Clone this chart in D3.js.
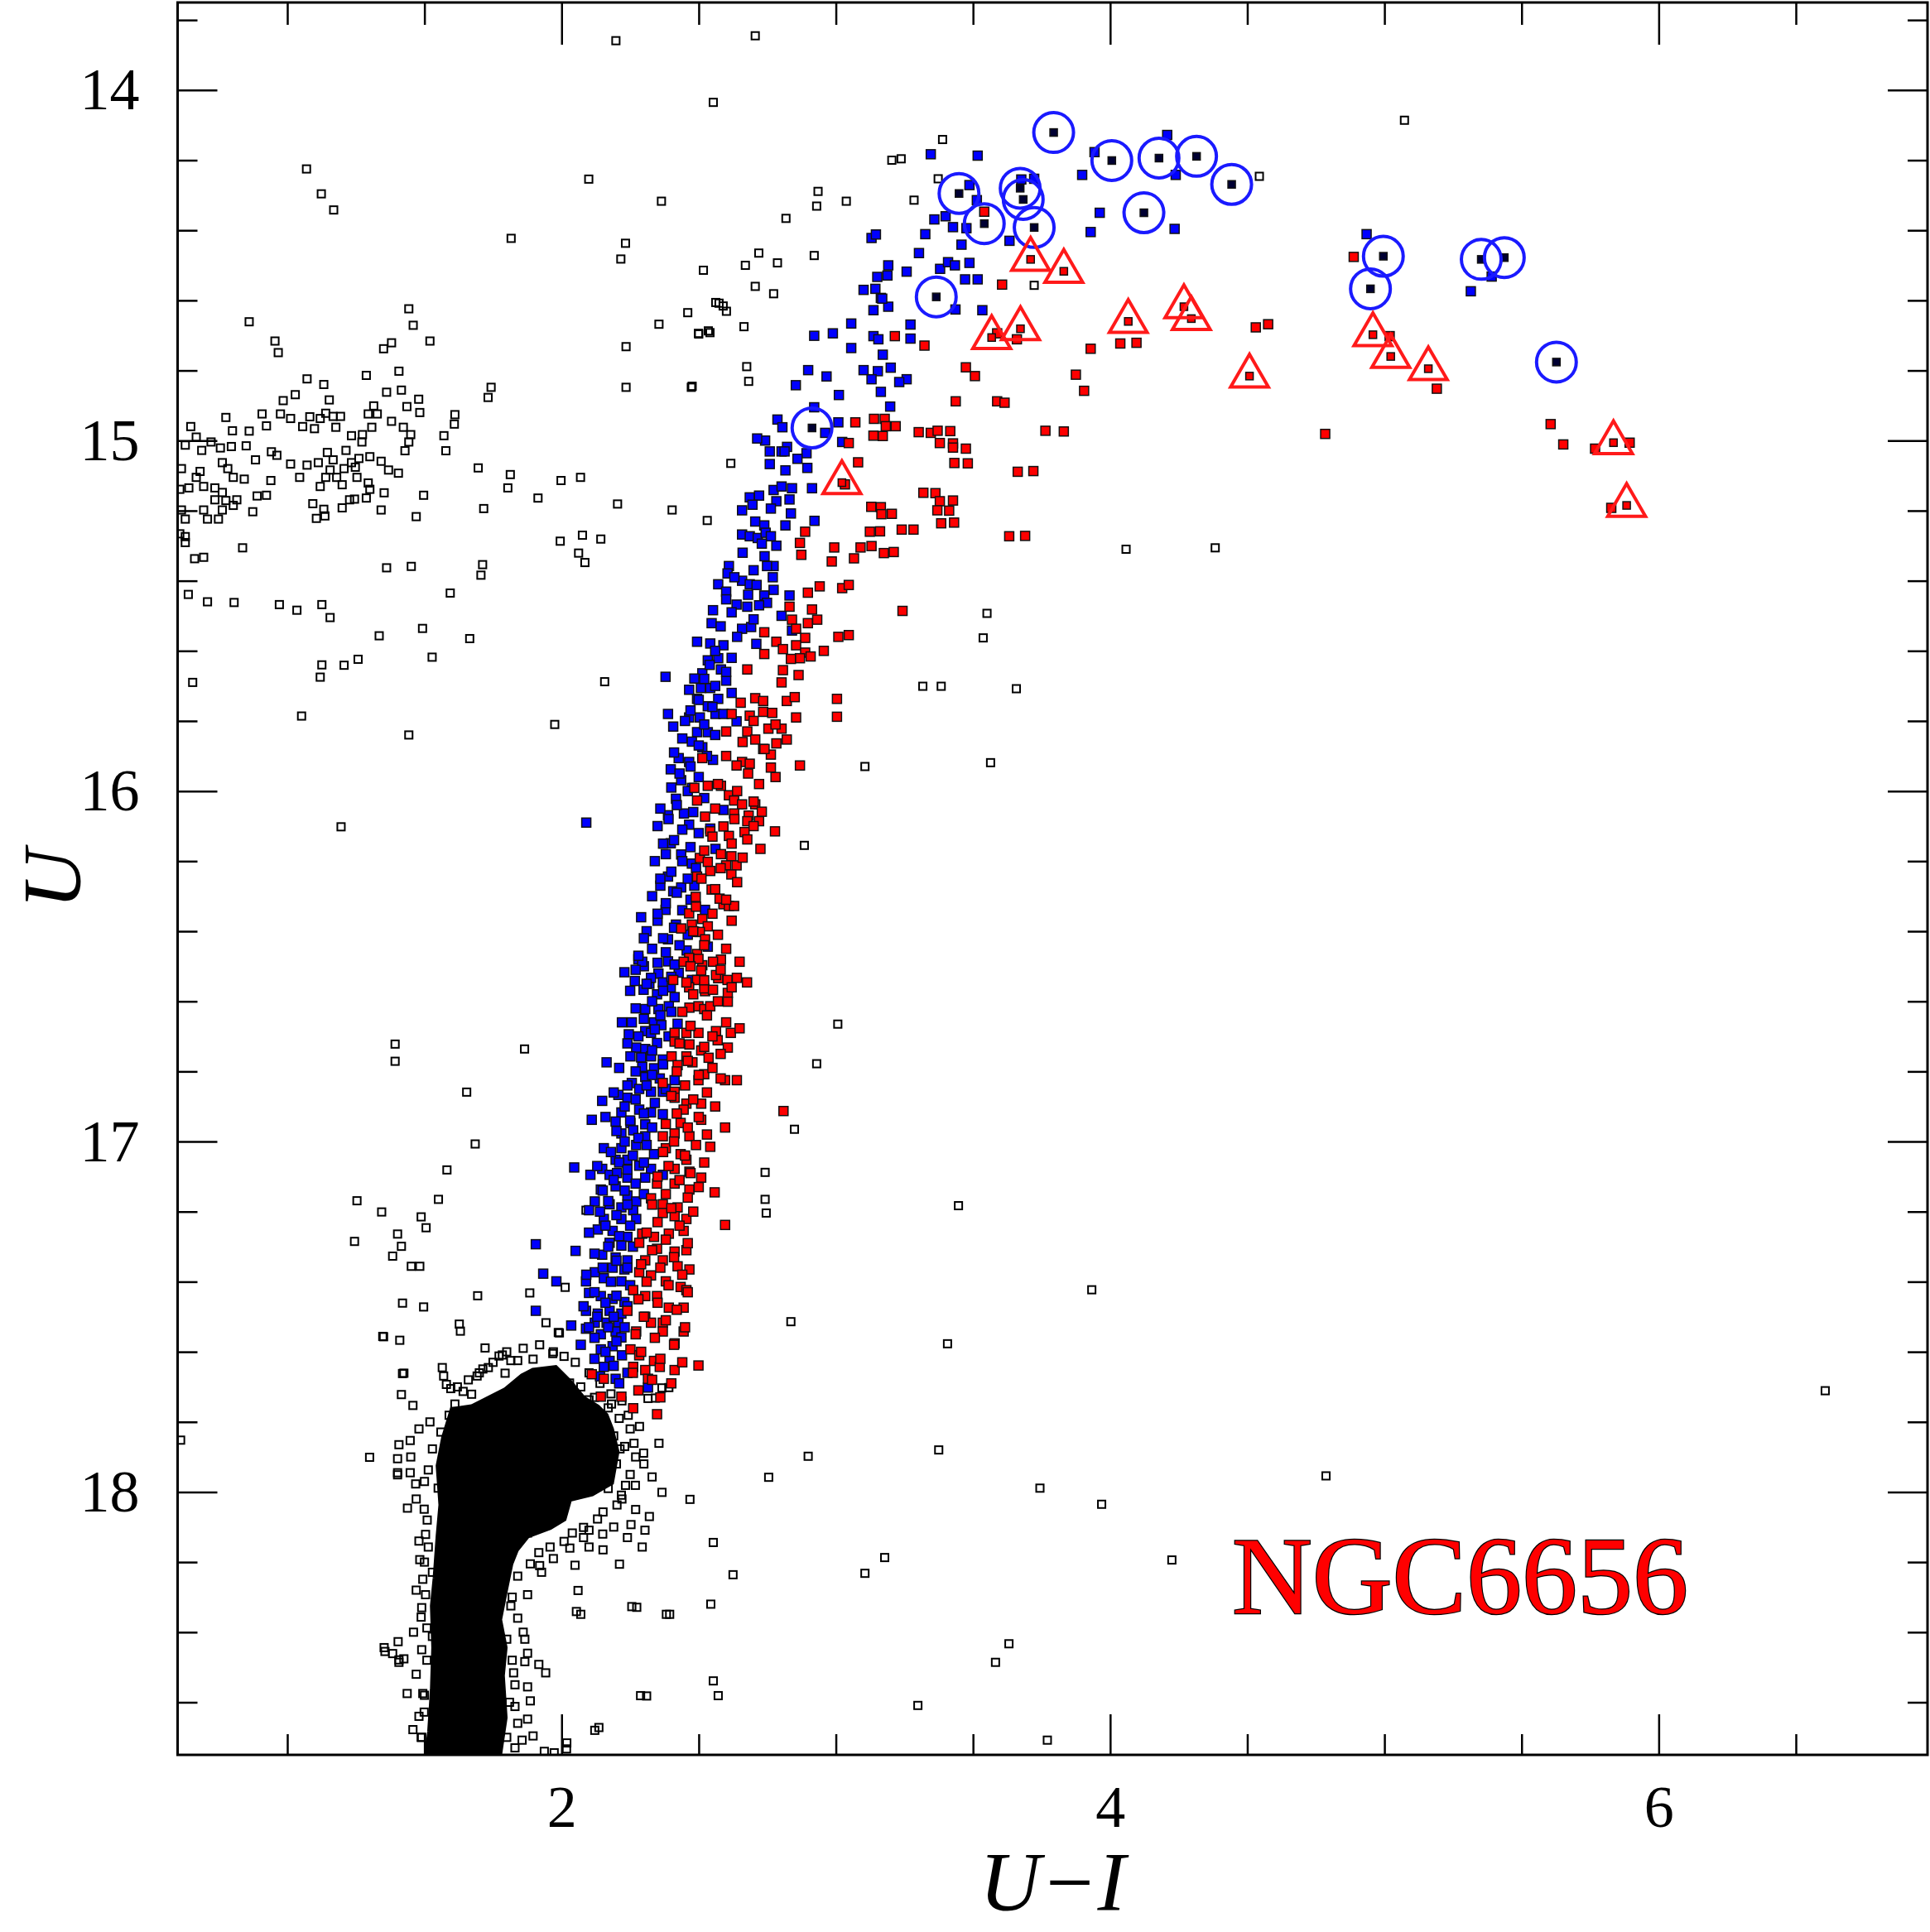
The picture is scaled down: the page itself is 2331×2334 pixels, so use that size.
<!DOCTYPE html>
<html>
<head>
<meta charset="utf-8">
<script src="https://cdn.jsdelivr.net/npm/d3@7"></script>
<style>
  body { margin: 0; background: #fff; }
</style>
</head>
<body>
<script>
// axis ticks
const xMajorTicks = [2, 4, 6];
const xMinorTicks = [1, 1.5, 2.5, 3, 3.5, 4.5, 5, 5.5, 6.5];
const yMajorTicks = [14, 15, 16, 17, 18];
const yMinorTicks = [13.8, 14.2, 14.4, 14.6, 14.8, 15.2, 15.4, 15.6, 15.8, 16.2, 16.4, 16.6, 16.8,
  17.2, 17.4, 17.6, 17.8, 18.2, 18.4, 18.6];

// field stars and horizontal branch (U-I, U)
const fieldStars = [
  [1.443,14.624],[0.861,14.661],[1.459,14.671],[0.955,14.716],[0.967,14.749],[1.351,14.738],[1.380,14.721],[1.520,14.716],
  [2.235,14.732],[2.355,14.668],[2.460,14.635],[2.574,14.608],[2.601,14.631],[2.500,14.696],[2.541,14.692],[2.665,14.675],
  [2.675,14.789],[2.682,14.831],[2.473,14.848],[2.235,14.848],[1.743,14.848],[1.732,14.877],[1.407,14.802],[1.288,14.814],
  [1.072,14.824],[1.133,14.840],[1.416,14.856],[1.362,14.862],[1.153,14.884],[1.029,14.869],[0.985,14.886],[1.479,14.882],
  [1.436,14.903],[1.315,14.901],[1.483,14.920],[1.328,14.924],[1.295,14.924],[1.167,14.931],[1.194,14.931],[1.140,14.922],
  [1.120,14.937],[1.082,14.932],[1.012,14.937],[0.975,14.924],[0.908,14.924],[0.776,14.934],[0.648,14.960],[0.800,14.972],
  [0.861,14.973],[0.924,14.958],[1.056,14.960],[1.099,14.966],[1.177,14.962],[1.234,14.986],[1.274,14.983],[1.308,14.962],
  [1.272,15.004],[1.380,14.945],[1.423,14.962],[1.450,14.983],[1.571,14.986],[1.611,14.926],[1.609,14.953],[1.578,15.029],
  [1.429,15.029],[1.443,15.004],[0.668,14.990],[0.628,15.013],[0.688,15.028],[0.722,15.004],[0.756,15.021],[0.796,15.017],
  [0.850,15.015],[0.942,15.032],[0.962,15.042],[0.884,15.055],[1.012,15.067],[1.072,15.070],[1.113,15.063],[1.146,15.034],
  [1.167,15.055],[1.214,15.028],[1.234,15.063],[1.301,15.046],[1.342,15.059],[1.369,15.084],[1.405,15.093],[1.261,15.051],
  [1.156,15.084],[1.207,15.080],[1.248,15.076],[1.140,15.105],[1.180,15.105],[1.120,15.131],[1.200,15.126],[1.254,15.105],
  [1.295,15.121],[1.301,15.139],[1.353,15.149],[1.245,15.167],[1.227,15.169],[1.288,15.164],[1.200,15.192],[1.133,15.196],
  [1.137,15.215],[1.106,15.222],[1.093,15.180],[1.045,15.105],[0.940,15.114],[0.890,15.158],[0.924,15.156],[0.874,15.203],
  [0.763,15.063],[0.783,15.080],[0.843,15.110],[0.803,15.105],[0.682,15.088],[0.668,15.105],[0.614,15.080],[0.641,15.135],
  [0.608,15.139],[0.695,15.131],[0.736,15.135],[0.763,15.148],[0.776,15.171],[0.816,15.169],[0.803,15.185],[0.736,15.169],
  [0.695,15.198],[0.709,15.224],[0.749,15.224],[0.763,15.198],[0.614,15.198],[0.628,15.224],[0.608,15.266],[0.628,15.274],
  [0.628,15.291],[0.837,15.306],[0.662,15.337],[0.695,15.333],[1.342,15.198],[1.470,15.217],[1.497,15.156],[1.696,15.078],
  [1.813,15.097],[1.804,15.135],[1.914,15.164],[1.998,15.114],[2.069,15.105],[1.716,15.194],[2.204,15.181],[2.403,15.198],
  [2.531,15.228],[2.617,15.065],[1.995,15.287],[2.076,15.270],[2.143,15.281],[2.062,15.321],[2.085,15.348],[1.362,15.363],
  [1.452,15.359],[1.712,15.354],[1.706,15.384],[1.594,15.435],[0.639,15.439],[0.709,15.460],[0.806,15.462],[0.971,15.468],
  [1.035,15.484],[1.126,15.468],[1.156,15.505],[1.335,15.557],[1.493,15.536],[1.665,15.565],[1.126,15.640],[1.207,15.641],
  [1.258,15.624],[1.528,15.618],[1.120,15.675],[0.655,15.690],[2.157,15.688],[1.052,15.786],[1.975,15.810],[1.443,15.840],
  [1.070,14.225],[1.124,14.296],[1.169,14.342],[1.816,14.423],[2.099,14.254],[2.198,13.859],[2.706,13.845],[2.553,14.035],
  [2.364,14.317],[2.233,14.437],[2.216,14.482],[2.517,14.514],[2.719,14.465],[2.818,14.366],[2.935,14.289],[2.930,14.331],
  [3.038,14.317],[2.921,14.472],[2.787,14.493],[3.204,14.200],[3.238,14.196],[3.389,14.141],[3.373,14.253],[3.285,14.314],
  [5.073,14.086],[3.723,14.557],[4.058,15.310],[4.383,15.306],[4.544,14.246],[2.706,14.560],[2.773,14.581],[2.670,14.500],
  [2.562,14.606],[2.589,14.616],[2.499,14.694],[2.535,14.687],[2.476,14.845],
  [6.607,17.711],[4.787,17.954],[3.969,18.035],[3.744,17.989],[4.225,18.194],[3.375,17.880],[3.106,18.232],[3.178,18.187],
  [2.899,17.898],[2.755,17.958],[2.625,18.236],[2.553,18.144],[2.544,18.320],[2.382,18.349],[2.256,18.327],[2.054,18.341],
  [2.288,18.581],[2.553,18.539],[2.571,18.581],[3.299,18.609],[3.582,18.486],[3.631,18.433],[3.771,18.708],[2.121,18.680],
  [2.018,18.733],[3.933,17.423],[3.407,17.577],[3.447,17.183],[2.836,17.514],[2.746,17.204],[2.742,17.088],[2.742,17.165],
  [2.849,16.965],[2.930,16.778],[3.007,16.665],[2.885,16.155],[3.106,15.930],[3.564,15.919],[3.658,15.708],[3.384,15.701],
  [3.317,15.701],[3.537,15.563],[3.551,15.493],
  [1.196,16.102],[1.865,16.736],[1.393,16.722],[1.393,16.771],[1.654,16.859],[1.685,17.007],[1.582,17.081],[1.551,17.165],
  [1.488,17.215],[1.506,17.246],[1.254,17.169],[1.245,17.285],[1.344,17.201],[1.402,17.264],[1.416,17.299],[1.384,17.327],
  [1.452,17.356],[1.483,17.356],[1.497,17.472],[1.420,17.461],[1.694,17.440],[1.627,17.521],[1.348,17.556],[1.420,17.662],
  [1.416,17.722],[1.402,17.951],[1.438,18.046],[1.353,18.444],[1.384,18.461],[1.407,18.486],[0.611,17.852],
  [1.884,17.432],[1.943,17.517],[1.992,17.546],[2.013,17.416],[2.089,17.196],[2.391,17.702],[2.342,17.732]
];

// saturated main-sequence / subgiant region (outline)
const msCore = [
  [1.672,17.757],[1.601,17.765],[1.570,17.845],[1.550,17.925],[1.560,18.037],[1.550,18.125],[1.539,18.245],[1.529,18.325],
  [1.534,18.444],[1.529,18.564],[1.519,18.684],[1.509,18.75],[1.774,18.75],[1.794,18.644],[1.784,18.524],[1.794,18.444],
  [1.774,18.364],[1.794,18.285],[1.815,18.205],[1.835,18.165],[1.876,18.125],[1.958,18.101],[2.009,18.077],[2.029,18.021],
  [2.111,18.005],[2.182,17.973],[2.202,17.885],[2.182,17.821],[2.162,17.781],[2.131,17.757],[2.080,17.733],[2.029,17.685],
  [1.978,17.645],[1.896,17.653],[1.856,17.669],[1.794,17.709],[1.733,17.733]
];

// stars around the saturated region
const msFringe = [
  [1.351,17.557],[1.410,17.567],[1.631,17.541],[1.721,17.589],[1.988,17.545],[1.565,17.645],[1.425,17.661],[1.458,17.753],
  [1.772,17.612],[1.815,17.625],[1.840,17.625],[1.713,17.649],[1.794,17.661],[1.896,17.621],[1.937,17.661],[1.968,17.605],
  [2.009,17.613],[2.029,17.689],[2.060,17.733],[2.100,17.737],[2.182,17.749],[2.243,17.781],[2.284,17.813],[2.315,17.733],
  [2.366,17.703],[2.355,17.861],[2.299,17.889],[2.264,17.861],[2.213,17.877],[2.233,17.981],[2.269,17.981],[2.330,17.957],
  [2.366,18.001],[2.468,18.021],[2.218,18.009],[2.202,18.037],[2.151,18.057],[2.131,18.077],[2.253,18.093],[2.304,18.109],
  [2.294,18.157],[2.151,18.165],[2.100,18.157],[2.100,18.109],[2.080,18.101],[2.039,18.117],[2.009,18.141],[1.958,18.157],
  [1.917,18.173],[1.876,18.117],[1.886,18.205],[1.927,18.229],[2.049,18.209],[2.211,18.206],[2.060,18.281],[2.070,18.349],
  [2.274,18.329],[2.394,18.349],[1.876,18.293],[1.815,18.325],[1.866,18.420],[1.876,18.460],[1.917,18.492],[1.942,18.516],
  [1.866,18.484],[1.825,18.516],[1.876,18.556],[1.886,18.596],[1.830,18.612],[1.876,18.648],[1.856,18.708],[1.896,18.696],
  [1.937,18.740],[1.973,18.744],[2.019,18.716],[2.136,18.672],[2.310,18.582],[1.448,17.853],[1.407,17.865],[1.300,17.901],
  [1.402,17.905],[1.402,17.945],[1.448,17.945],[1.468,17.977],[1.514,17.937],[1.550,17.989],[1.499,18.049],[1.504,18.121],
  [1.514,18.157],[1.483,18.193],[1.529,18.229],[1.494,18.249],[1.504,18.293],[1.488,18.357],[1.509,18.388],[1.529,18.412],
  [1.404,18.427],[1.356,18.455],[1.407,18.479],[1.425,18.476],[1.509,18.480],[1.437,18.575],[1.494,18.575],[1.499,18.628],
  [1.458,18.678],[1.488,18.700],[1.519,18.724],[1.580,17.693],[1.596,17.705],[1.641,17.713],[1.672,17.721],[1.611,17.749],
  [1.590,17.781],[1.560,17.829],[1.529,17.877],[1.570,17.669],[1.692,17.669],[1.733,17.645],[1.784,17.609],
  [2.05,17.63],[2.10,17.66],[2.14,17.69],[2.18,17.72],[2.22,17.74],[2.07,17.70],[2.12,17.73],[2.17,17.76],
  [2.21,17.79],[2.25,17.82],[2.19,17.84],[2.23,17.87],[2.27,17.90],[2.20,17.92],[2.25,17.95],[2.30,17.92],
  [2.17,17.99],[2.22,18.02],[2.27,18.05],[2.32,18.07],[2.19,18.10],[2.24,18.13],[2.15,18.12],[2.08,18.13],
  [2.03,18.16],[1.97,18.19],[1.92,18.21],[1.84,18.24],[1.82,18.30],[1.84,18.36],[1.86,18.40],[1.80,18.42],
  [1.82,18.48],[1.83,18.55],[1.81,18.60],[1.84,18.66],[1.80,18.70],[1.83,18.73],[1.48,17.82],[1.52,17.80],
  [1.45,17.90],[1.50,17.97],[1.47,18.02],[1.51,18.08],[1.48,18.14],[1.50,18.20],[1.47,18.28],[1.49,18.33],
  [1.46,18.40],[1.49,18.45],[1.47,18.52],[1.50,18.58],[1.48,18.64],[1.49,18.70],[1.62,17.70],[1.66,17.68],
  [1.70,17.66],[1.75,17.63],[1.80,17.60],[1.86,17.59],[1.92,17.58],[1.97,17.60]
];

// blue RGB sequence
const blueStars = [
  [3.346,14.183],[3.517,14.187],[3.487,14.271],[3.514,14.314],[3.359,14.369],[3.400,14.360],[3.427,14.391],[3.476,14.394],
  [3.326,14.411],[3.458,14.441],[3.633,14.430],[3.676,14.255],[3.723,14.253],[3.898,14.242],[3.943,14.177],[4.208,14.128],
  [4.239,14.242],[3.962,14.350],[3.929,14.405],[4.235,14.396],[3.130,14.422],[3.380,14.510],[3.409,14.491],[3.434,14.500],
  [3.487,14.493],[3.151,14.533],[3.188,14.529],[3.471,14.540],[3.517,14.540],[3.144,14.567],[3.164,14.593],[3.191,14.618],
  [3.137,14.628],[3.436,14.626],[3.534,14.628],[3.272,14.669],[3.137,14.702],[3.272,14.709],[3.171,14.755],[3.153,14.802],
  [3.130,14.825],[3.258,14.825],[3.231,14.833],[3.164,14.861],[3.198,14.903],[4.935,14.411],[5.315,14.574],[5.391,14.532],
  [3.146,14.412],[3.101,14.570],[3.169,14.595],[3.056,14.666],[2.989,14.694],[2.921,14.701],[3.056,14.736],[2.899,14.799],
  [2.966,14.817],[2.854,14.842],[3.101,14.799],[3.011,14.870],[2.921,14.905],[2.787,14.940],[2.742,15.000],[2.822,15.018],
  [3.191,14.500],[3.258,14.518],[3.303,14.465],[3.155,14.711],[3.200,14.792],
  [2.805,14.962],[2.713,14.994],[2.759,15.031],[2.802,15.031],[2.813,15.031],[2.893,15.036],[2.860,15.052],[2.759,15.067],
  [2.816,15.085],[2.896,15.078],[3.009,14.948],[3.023,15.004],[2.961,14.978],[2.773,15.141],[2.802,15.131],[2.840,15.136],
  [2.913,15.136],[2.686,15.162],[2.720,15.157],[2.783,15.173],[2.831,15.168],[2.658,15.199],[2.696,15.183],[2.763,15.194],
  [2.836,15.208],[2.922,15.229],[2.816,15.242],[2.706,15.231],[2.739,15.242],[2.658,15.268],[2.686,15.273],[2.715,15.278],
  [2.744,15.263],[2.763,15.273],[2.783,15.300],[2.730,15.294],[2.773,15.358],[2.749,15.358],[2.610,15.358],[2.605,15.379],
  [2.571,15.410],[2.600,15.431],[2.658,15.400],[2.686,15.410],[2.711,15.412],[2.773,15.426],[2.739,15.442],[2.749,15.463],
  [2.600,15.453],[2.638,15.468],[2.677,15.474],[2.831,15.442],[2.802,15.500],[2.552,15.484],[2.547,15.521],[2.658,15.537],
  [2.691,15.532],[2.840,15.542],[2.494,15.574],[2.542,15.579],[2.590,15.584],[2.571,15.621],[2.533,15.627],[2.581,15.653],
  [2.513,15.664],[2.484,15.679],[2.379,15.674],[2.465,15.711],[2.508,15.706],[2.542,15.706],[2.600,15.685],[2.571,15.737],
  [2.494,15.737],[2.533,15.758],[2.388,15.780],[2.465,15.790],[2.504,15.790],[2.561,15.780],[2.638,15.801],[2.407,15.816],
  [2.494,15.832],[2.533,15.832],[2.475,15.859],[2.513,15.875],[2.552,15.911],[2.427,15.906],[2.465,15.917],[2.398,15.938],
  [2.436,15.969],[2.475,15.991],[2.417,16.022],[2.388,16.069],[2.446,16.064],[2.465,16.096],[2.398,16.149],[2.590,16.054],
  [2.542,16.107],[2.561,16.165],[2.436,16.181],[2.475,16.207],[2.388,16.244],[2.407,16.286],[2.436,16.275],[2.484,16.270],
  [2.523,16.339],[2.379,16.339],[2.417,16.381],[2.388,16.423],[2.484,16.402],[2.456,16.455],[2.533,16.444],[2.388,16.486],
  [2.427,16.518],[2.475,16.539],[2.398,16.560],
  [2.66,15.32],[2.74,15.33],[2.70,15.37],[2.63,15.39],[2.77,15.39],[2.68,15.44],[2.72,15.47],[2.62,15.49],
  [2.70,15.51],[2.58,15.53],[2.64,15.56],[2.71,15.58],[2.56,15.60],[2.62,15.62],[2.54,15.64],[2.60,15.66],
  [2.52,15.68],[2.56,15.70],[2.62,15.72],[2.50,15.74],[2.55,15.76],[2.47,15.77],[2.59,15.78],[2.45,15.80],
  [2.52,15.81],[2.56,15.84],[2.44,15.85],[2.50,15.87],[2.41,15.89],[2.53,15.90],[2.47,15.93],[2.43,15.95],
  [2.50,15.96],[2.40,15.99],[2.46,16.00],[2.52,16.02],[2.42,16.04],[2.48,16.06],[2.39,16.08],[2.44,16.11],
  [2.50,16.12],[2.41,16.14],[2.47,16.16],[2.38,16.18],[2.44,16.20],[2.49,16.22],[2.40,16.23],[2.46,16.25],
  [2.36,16.27],[2.42,16.29],[2.47,16.31],[2.38,16.32],[2.44,16.34],[2.35,16.37],[2.41,16.39],[2.46,16.41],
  [2.37,16.42],[2.43,16.44],
  [2.30,16.50],[2.33,16.45],[2.31,16.40],[2.35,16.35],[2.33,16.30],[2.36,16.25],[2.34,16.20],[2.37,16.15],[2.35,16.10],
  [2.30,16.42],[2.32,16.55],[2.28,16.48],[2.29,16.36],[2.36,16.05],[2.09,16.09],
  [2.229,16.517],[2.294,16.487],[2.353,16.521],[2.412,16.495],[2.267,16.542],[2.326,16.533],[2.369,16.546],[2.299,16.567],
  [2.348,16.580],[2.412,16.588],[2.305,16.622],[2.353,16.622],[2.391,16.614],[2.256,16.660],[2.337,16.660],[2.305,16.685],
  [2.245,16.694],[2.326,16.690],[2.364,16.668],[2.423,16.664],[2.272,16.732],[2.305,16.736],[2.348,16.719],[2.251,16.757],
  [2.326,16.757],[2.369,16.766],[2.164,16.774],[2.294,16.787],[2.337,16.791],[2.256,16.833],[2.305,16.816],[2.358,16.820],
  [2.412,16.825],[2.283,16.850],[2.326,16.858],[2.369,16.858],[2.240,16.875],[2.207,16.867],[2.148,16.884],[2.218,16.917],
  [2.283,16.909],[2.326,16.917],[2.369,16.922],[2.110,16.938],[2.197,16.943],[2.251,16.947],[2.305,16.951],[2.218,16.977],
  [2.261,16.968],[2.305,16.985],[2.154,17.019],[2.218,17.019],[2.272,17.010],[2.337,17.036],[2.240,17.052],[2.197,17.052],
  [2.283,17.069],[2.326,17.078],[2.046,17.074],[2.105,17.095],[2.148,17.078],[2.175,17.095],[2.202,17.090],[2.240,17.103],
  [2.305,17.103],[2.369,17.095],[2.143,17.137],[2.197,17.128],[2.240,17.154],[2.272,17.171],[2.121,17.171],[2.175,17.179],
  [2.218,17.188],[2.261,17.196],[2.100,17.196],[2.154,17.221],[2.218,17.221],[2.272,17.221],[2.132,17.251],[2.186,17.255],
  [2.240,17.272],[2.175,17.289],[2.218,17.297],[1.906,17.293],[2.051,17.312],[2.148,17.323],[2.197,17.331],[2.240,17.339],
  [2.186,17.360],[2.229,17.365],[2.121,17.373],[1.933,17.377],[1.981,17.399],[2.089,17.399],[2.154,17.390],[2.218,17.399],
  [2.100,17.432],[2.143,17.441],[2.186,17.449],[2.229,17.458],[1.906,17.483],[2.089,17.483],[2.132,17.491],[2.175,17.483],
  [2.218,17.491],[2.121,17.517],[2.164,17.517],[2.207,17.517],[2.035,17.525],[2.089,17.534],[2.143,17.550],[2.197,17.542],
  [2.218,17.559],[2.143,17.593],[2.186,17.584],[2.175,17.626],[2.197,17.677],[2.315,17.702],[2.240,17.660],[2.154,17.643],
  [2.28,16.47],[2.38,16.46],[2.35,16.49],[2.27,16.51],[2.40,16.53],[2.31,16.55],[2.25,16.57],[2.37,16.57],
  [2.33,16.60],[2.27,16.62],[2.40,16.63],[2.30,16.65],[2.36,16.64],[2.22,16.66],[2.34,16.68],[2.28,16.70],
  [2.39,16.70],[2.24,16.72],[2.33,16.74],[2.29,16.76],[2.37,16.78],[2.21,16.79],[2.27,16.80],[2.33,16.81],
  [2.24,16.84],[2.31,16.84],[2.38,16.85],[2.19,16.86],[2.27,16.88],[2.34,16.89],[2.23,16.90],[2.30,16.92],
  [2.16,16.93],[2.25,16.94],[2.33,16.96],[2.20,16.97],[2.28,16.99],[2.23,17.00],[2.31,17.01],[2.18,17.03],
  [2.26,17.04],[2.21,17.06],[2.30,17.06],[2.13,17.07],[2.24,17.08],[2.19,17.11],[2.27,17.12],[2.15,17.14],
  [2.23,17.14],[2.30,17.15],[2.17,17.17],[2.24,17.18],[2.14,17.20],[2.20,17.21],[2.25,17.24],[2.16,17.24],
  [2.10,17.26],[2.21,17.27],[2.17,17.30],[2.26,17.30],[2.12,17.32],[2.20,17.34],[2.24,17.36],[2.15,17.36],
  [2.09,17.38],[2.18,17.40],[2.25,17.41],[2.12,17.43],[2.20,17.44],[2.16,17.46],[2.08,17.47],[2.24,17.47],
  [2.13,17.50],[2.19,17.50],[2.10,17.53],[2.17,17.53],[2.23,17.53],[2.12,17.56],[2.20,17.57],[2.07,17.58],
  [2.16,17.60],[2.22,17.61],[2.12,17.62],[2.19,17.64],[2.14,17.67],[2.21,17.69]
];

// red RGB sequence
const redStars = [
  [3.541,14.347],[3.606,14.555],[4.888,14.476],[4.576,14.668],[4.531,14.677],[3.929,14.738],[4.037,14.723],[4.096,14.721],
  [3.588,14.694],[3.660,14.711],[3.215,14.702],[3.323,14.729],[3.474,14.791],[3.507,14.816],[3.875,14.812],[3.905,14.858],
  [3.437,14.888],[3.588,14.888],[3.615,14.892],[3.178,14.938],[3.218,14.959],[3.171,14.987],[3.346,14.978],[3.417,14.973],
  [3.427,15.008],[3.474,15.023],[3.481,15.065],[3.831,14.974],[3.720,15.087],[4.784,14.981],[3.363,15.150],[3.427,15.171],
  [3.413,15.200],[3.431,15.234],[3.164,15.190],[3.204,15.209],[3.161,15.259],[3.283,15.254],[3.130,15.301],[3.211,15.318],
  [3.690,15.272],
  [5.191,14.852],[5.606,14.953],[5.652,15.011],[5.768,15.023],[5.894,15.006],[5.827,15.192],[5.019,14.702],
  [3.071,14.948],[3.139,14.938],[3.182,14.959],[3.137,14.986],[3.047,15.007],[3.081,15.062],[3.302,14.976],[3.371,14.972],
  [3.379,15.007],[3.427,15.020],[3.432,15.064],[3.764,14.972],[3.663,15.089],[3.033,15.125],[3.319,15.149],[3.379,15.173],
  [3.370,15.199],[3.384,15.236],[3.129,15.189],[3.166,15.210],[3.124,15.260],[3.240,15.254],[3.632,15.273],[2.888,15.260],
  [2.869,15.292],[2.874,15.326],[2.994,15.305],[3.090,15.305],[2.985,15.345],[3.066,15.336],[3.175,15.321],[2.941,15.416],
  [2.898,15.434],[3.023,15.421],[3.047,15.412],[2.831,15.474],[2.913,15.482],[2.840,15.511],[2.898,15.521],[2.932,15.511],
  [2.855,15.537],[2.888,15.563],[3.009,15.560],[3.047,15.555],[2.956,15.600],[2.739,15.547],[2.783,15.574],[2.807,15.595],
  [2.739,15.609],[2.855,15.584],[2.888,15.605],[2.908,15.616],[2.869,15.621],[2.836,15.623],[2.807,15.655],[2.864,15.669],
  [2.677,15.653],[2.802,15.690],[3.243,15.486],[2.653,15.748],[2.706,15.735],[2.735,15.743],[2.735,15.774],[2.768,15.777],
  [2.686,15.785],[2.821,15.743],[2.850,15.732],[2.855,15.790],[3.004,15.737],[3.004,15.788],[2.754,15.822],[2.802,15.822],
  [2.677,15.830],[2.600,15.830],[2.706,15.853],[2.783,15.864],[2.821,15.853],[2.735,15.880],[2.763,15.896],[2.658,15.917],
  [2.686,15.922],[2.763,15.933],[2.638,15.927],[2.869,15.927],[2.513,15.906],[2.581,15.985],[2.484,15.991],[2.533,15.985],
  [2.720,15.980],[2.610,16.012],[2.629,16.027],[2.658,16.038],[2.494,16.027],[2.523,16.073],[2.629,16.064],[2.682,16.070],
  [2.706,16.038],[2.720,16.086],[2.730,16.059],[2.677,16.086],[2.667,16.117],[2.677,16.138],[2.590,16.101],[2.610,16.128],
  [2.542,16.115],[2.725,16.165],[2.778,16.115],[2.504,16.191],[2.619,16.186],[2.581,16.180],[2.533,16.202],[2.542,16.228],
  [2.600,16.212],[2.638,16.212],[2.619,16.238],[2.494,16.244],[2.547,16.281],[2.489,16.302],[2.590,16.323],[2.610,16.328],
  [2.629,16.328],[2.576,16.307],[2.465,16.349],[2.475,16.381],[2.513,16.365],[2.533,16.386],[2.504,16.402],[2.436,16.392],
  [2.523,16.423],[2.581,16.481],[2.605,16.539],[2.494,16.465],[2.465,16.476],[2.513,16.497],[2.494,16.539],[2.571,16.534],
  [2.465,16.560],[2.523,16.571],[2.407,16.539],
  [2.62,15.78],[2.70,15.80],[2.78,15.81],[2.66,15.86],[2.74,15.88],[2.60,15.90],[2.68,15.95],[2.78,15.96],
  [2.57,15.98],[2.64,16.00],[2.70,16.03],[2.56,16.05],[2.63,16.08],[2.70,16.10],[2.55,16.13],[2.62,16.15],
  [2.52,16.17],[2.66,16.19],[2.58,16.22],[2.51,16.25],[2.64,16.26],[2.56,16.28],[2.60,16.31],[2.49,16.33],
  [2.55,16.35],[2.62,16.37],[2.48,16.40],[2.57,16.41],[2.52,16.44],[2.60,16.45],
  [2.445,16.487],[2.499,16.479],[2.552,16.487],[2.649,16.487],[2.509,16.512],[2.563,16.525],[2.639,16.533],[2.676,16.546],
  [2.455,16.546],[2.520,16.563],[2.552,16.567],[2.606,16.576],[2.606,16.601],[2.466,16.618],[2.499,16.614],[2.520,16.622],
  [2.542,16.614],[2.412,16.690],[2.455,16.690],[2.499,16.690],[2.563,16.685],[2.617,16.690],[2.649,16.677],[2.569,16.711],
  [2.606,16.732],[2.412,16.715],[2.466,16.723],[2.509,16.740],[2.401,16.757],[2.455,16.757],[2.536,16.761],[2.423,16.782],
  [2.477,16.774],[2.520,16.808],[2.499,16.825],[2.596,16.825],[2.639,16.825],[2.369,16.833],[2.412,16.858],[2.412,16.875],
  [2.455,16.892],[2.509,16.892],[2.445,16.909],[2.509,16.938],[2.434,16.947],[2.596,16.960],[2.542,17.015],[2.369,16.985],
  [2.412,16.977],[2.466,16.985],[2.380,17.019],[2.434,17.036],[2.455,17.052],[2.412,17.078],[2.466,17.086],[2.509,17.103],
  [2.348,17.120],[2.412,17.120],[2.466,17.137],[2.558,17.145],[2.326,17.162],[2.369,17.179],[2.423,17.188],[2.369,17.204],
  [2.412,17.213],[2.455,17.221],[2.596,17.238],[2.294,17.263],[2.337,17.272],[2.391,17.263],[2.445,17.255],[2.283,17.289],
  [2.348,17.306],[2.412,17.314],[2.455,17.310],[2.305,17.339],[2.369,17.339],[2.423,17.356],[2.466,17.365],[2.283,17.373],
  [2.326,17.382],[2.380,17.399],[2.434,17.415],[2.455,17.424],[2.261,17.424],[2.305,17.441],[2.348,17.441],[2.391,17.474],
  [2.445,17.474],[2.240,17.483],[2.305,17.500],[2.326,17.517],[2.369,17.517],[2.272,17.542],[2.369,17.542],[2.445,17.542],
  [2.412,17.576],[2.251,17.593],[2.283,17.610],[2.337,17.626],[2.412,17.652],[2.499,17.639],[2.261,17.643],[2.305,17.652],
  [2.358,17.643],[2.110,17.664],[2.154,17.677],[2.315,17.677],[2.218,17.728],[2.348,17.778],[2.261,17.761],[2.143,17.728],
  [2.809,16.913],
  [2.47,16.50],[2.58,16.51],[2.52,16.54],[2.62,16.56],[2.48,16.58],[2.57,16.60],[2.44,16.63],[2.53,16.64],
  [2.60,16.66],[2.47,16.67],[2.55,16.70],[2.43,16.72],[2.52,16.73],[2.58,16.75],[2.46,16.77],[2.55,16.79],
  [2.42,16.80],[2.50,16.81],[2.58,16.82],[2.45,16.84],[2.53,16.86],[2.40,16.87],[2.48,16.88],[2.56,16.90],
  [2.42,16.92],[2.50,16.93],[2.38,16.95],[2.46,16.96],[2.53,16.98],[2.41,17.00],[2.49,17.01],[2.37,17.03],
  [2.45,17.04],[2.52,17.06],[2.39,17.07],[2.47,17.09],[2.35,17.10],[2.43,17.11],[2.50,17.13],[2.38,17.15],
  [2.46,17.16],[2.33,17.18],[2.40,17.19],[2.48,17.20],[2.35,17.23],[2.43,17.24],[2.31,17.26],[2.38,17.28],
  [2.46,17.29],[2.33,17.31],[2.41,17.33],[2.29,17.35],[2.36,17.36],[2.44,17.38],[2.31,17.40],[2.39,17.41],
  [2.46,17.43],[2.28,17.45],[2.35,17.46],[2.42,17.48],[2.30,17.50],[2.38,17.51],[2.45,17.53],[2.27,17.55],
  [2.34,17.56],[2.41,17.58],[2.29,17.60],[2.36,17.62],[2.44,17.63],[2.26,17.66],[2.33,17.68],[2.40,17.69],
  [2.28,17.71],[2.36,17.73]
];

// stars marked with circles and triangles
const circledStars = [
  [3.794,14.121],[4.006,14.201],[4.178,14.194],[4.315,14.189],[4.443,14.269],[3.449,14.295],[3.672,14.280],[3.683,14.312],
  [3.541,14.381],[3.723,14.392],[4.123,14.350],[3.366,14.590],[4.996,14.474],[4.949,14.567],[5.353,14.483],[5.437,14.478],
  [5.627,14.776],[2.913,14.964]
];
const triangledStars = [
  [3.710,14.483],[3.831,14.517],[3.568,14.706],[3.673,14.681],[4.066,14.660],[4.269,14.618],[4.296,14.652],[4.508,14.816],
  [4.958,14.698],[5.023,14.760],[5.160,14.795],[5.835,15.006],[5.883,15.185],[3.022,15.120]
];

// canvas variables
const width = 2331;
const height = 2334;
const plotLeft = 214.5;
const plotRight = 2328;
const plotTop = 3;
const plotBottom = 2120;
const serif = "'Liberation Serif', 'DejaVu Serif', serif";

// scales
const xScale = d3.scaleLinear().domain([0.6, 6.98]).range([plotLeft, plotRight]);
const yScale = d3.scaleLinear().domain([13.75, 18.75]).range([plotTop, plotBottom]);

// create svg
const svg = d3
  .select("body")
  .append("svg")
  .attr("width", width)
  .attr("height", height)
  .style("display", "block")
  .style("background", "#fff");

svg
  .append("defs")
  .append("clipPath")
  .attr("id", "plot-clip")
  .append("rect")
  .attr("x", plotLeft)
  .attr("y", plotTop)
  .attr("width", plotRight - plotLeft)
  .attr("height", plotBottom - plotTop);

const plot = svg.append("g").attr("clip-path", "url(#plot-clip)");

// saturated region
plot
  .append("path")
  .datum(msCore)
  .attr("d", d3.line().x((d) => xScale(d[0])).y((d) => yScale(d[1])).curve(d3.curveLinearClosed))
  .attr("fill", "#000")
  .attr("stroke", "#000")
  .attr("stroke-width", 6);

// black stars (open squares)
const sq = 9;
plot
  .selectAll("rect.field")
  .data(fieldStars.concat(msFringe))
  .enter()
  .append("rect")
  .attr("class", "field")
  .attr("x", (d) => xScale(d[0]) - sq / 2)
  .attr("y", (d) => yScale(d[1]) - sq / 2)
  .attr("width", sq)
  .attr("height", sq)
  .attr("fill", "none")
  .attr("stroke", "#000")
  .attr("stroke-width", 2);

// blue and red sequences
const fq = 11;
const drawFilled = (data, cls, color, size) => {
  plot
    .selectAll(`rect.${cls}`)
    .data(data)
    .enter()
    .append("rect")
    .attr("class", cls)
    .attr("x", (d) => xScale(d[0]) - size / 2)
    .attr("y", (d) => yScale(d[1]) - size / 2)
    .attr("width", size)
    .attr("height", size)
    .attr("fill", color)
    .attr("stroke", "#111")
    .attr("stroke-width", 1.5);
};
drawFilled(blueStars, "blue", "#0000ff", fq);
drawFilled(redStars, "red", "#ff0000", fq);

// centre dots of marked stars
drawFilled(circledStars, "cdot", "#000033", 9);
drawFilled(triangledStars, "tdot", "#ff0000", 9);

// circles
plot
  .selectAll("circle.mark")
  .data(circledStars)
  .enter()
  .append("circle")
  .attr("class", "mark")
  .attr("cx", (d) => xScale(d[0]))
  .attr("cy", (d) => yScale(d[1]))
  .attr("r", 24)
  .attr("fill", "none")
  .attr("stroke", "#1a1aff")
  .attr("stroke-width", 4);

// triangles
plot
  .selectAll("path.mark")
  .data(triangledStars)
  .enter()
  .append("path")
  .attr("class", "mark")
  .attr("d", d3.symbol().type(d3.symbolTriangle).size(900))
  .attr("transform", (d) => `translate(${xScale(d[0])}, ${yScale(d[1])})`)
  .attr("fill", "none")
  .attr("stroke", "#ff1a1a")
  .attr("stroke-width", 4);

// axes
const styleAxis = (g) => {
  g.select(".domain").remove();
  g.selectAll("line").attr("stroke", "#000").attr("stroke-width", 2.5);
  g.selectAll("text")
    .attr("fill", "#000")
    .attr("font-family", serif)
    .attr("font-size", 72);
};

// x-axis bottom
svg
  .append("g")
  .attr("transform", `translate(0, ${plotBottom})`)
  .call(d3.axisBottom(xScale).tickValues(xMajorTicks).tickSize(-49).tickPadding(36).tickFormat(d3.format("d")))
  .call(styleAxis);
svg
  .append("g")
  .attr("transform", `translate(0, ${plotBottom})`)
  .call(d3.axisBottom(xScale).tickValues(xMinorTicks).tickSize(-25).tickFormat(""))
  .call(styleAxis);

// x-axis top
svg
  .append("g")
  .attr("transform", `translate(0, ${plotTop})`)
  .call(d3.axisTop(xScale).tickValues(xMajorTicks).tickSize(-51).tickFormat(""))
  .call(styleAxis);
svg
  .append("g")
  .attr("transform", `translate(0, ${plotTop})`)
  .call(d3.axisTop(xScale).tickValues(xMinorTicks).tickSize(-27).tickFormat(""))
  .call(styleAxis);

// y-axis left
svg
  .append("g")
  .attr("transform", `translate(${plotLeft}, 0)`)
  .call(d3.axisLeft(yScale).tickValues(yMajorTicks).tickSize(-48).tickPadding(46).tickFormat(d3.format("d")))
  .call(styleAxis);
svg
  .append("g")
  .attr("transform", `translate(${plotLeft}, 0)`)
  .call(d3.axisLeft(yScale).tickValues(yMinorTicks).tickSize(-24).tickFormat(""))
  .call(styleAxis);

// y-axis right
svg
  .append("g")
  .attr("transform", `translate(${plotRight}, 0)`)
  .call(d3.axisRight(yScale).tickValues(yMajorTicks).tickSize(-48).tickFormat(""))
  .call(styleAxis);
svg
  .append("g")
  .attr("transform", `translate(${plotRight}, 0)`)
  .call(d3.axisRight(yScale).tickValues(yMinorTicks).tickSize(-24).tickFormat(""))
  .call(styleAxis);

// frame
svg
  .append("rect")
  .attr("x", plotLeft)
  .attr("y", plotTop)
  .attr("width", plotRight - plotLeft)
  .attr("height", plotBottom - plotTop)
  .attr("fill", "none")
  .attr("stroke", "#000")
  .attr("stroke-width", 3);

// set x-label
svg
  .append("text")
  .attr("x", (plotLeft + plotRight) / 2)
  .attr("y", 2308)
  .attr("font-family", serif)
  .attr("font-size", 102)
  .attr("font-style", "italic")
  .style("text-anchor", "middle")
  .text("U\u2212I");

// set y-label
svg
  .append("text")
  .attr("transform", "translate(96, 1062) rotate(-90)")
  .attr("font-family", serif)
  .attr("font-size", 100)
  .attr("font-style", "italic")
  .style("text-anchor", "middle")
  .text("U");

// cluster name
svg
  .append("text")
  .attr("x", 1488)
  .attr("y", 1949)
  .attr("font-family", serif)
  .attr("font-size", 134)
  .attr("fill", "#ff0000")
  .attr("stroke", "#000")
  .attr("stroke-width", 2.5)
  .style("paint-order", "stroke")
  .text("NGC6656");
</script>
</body>
</html>
